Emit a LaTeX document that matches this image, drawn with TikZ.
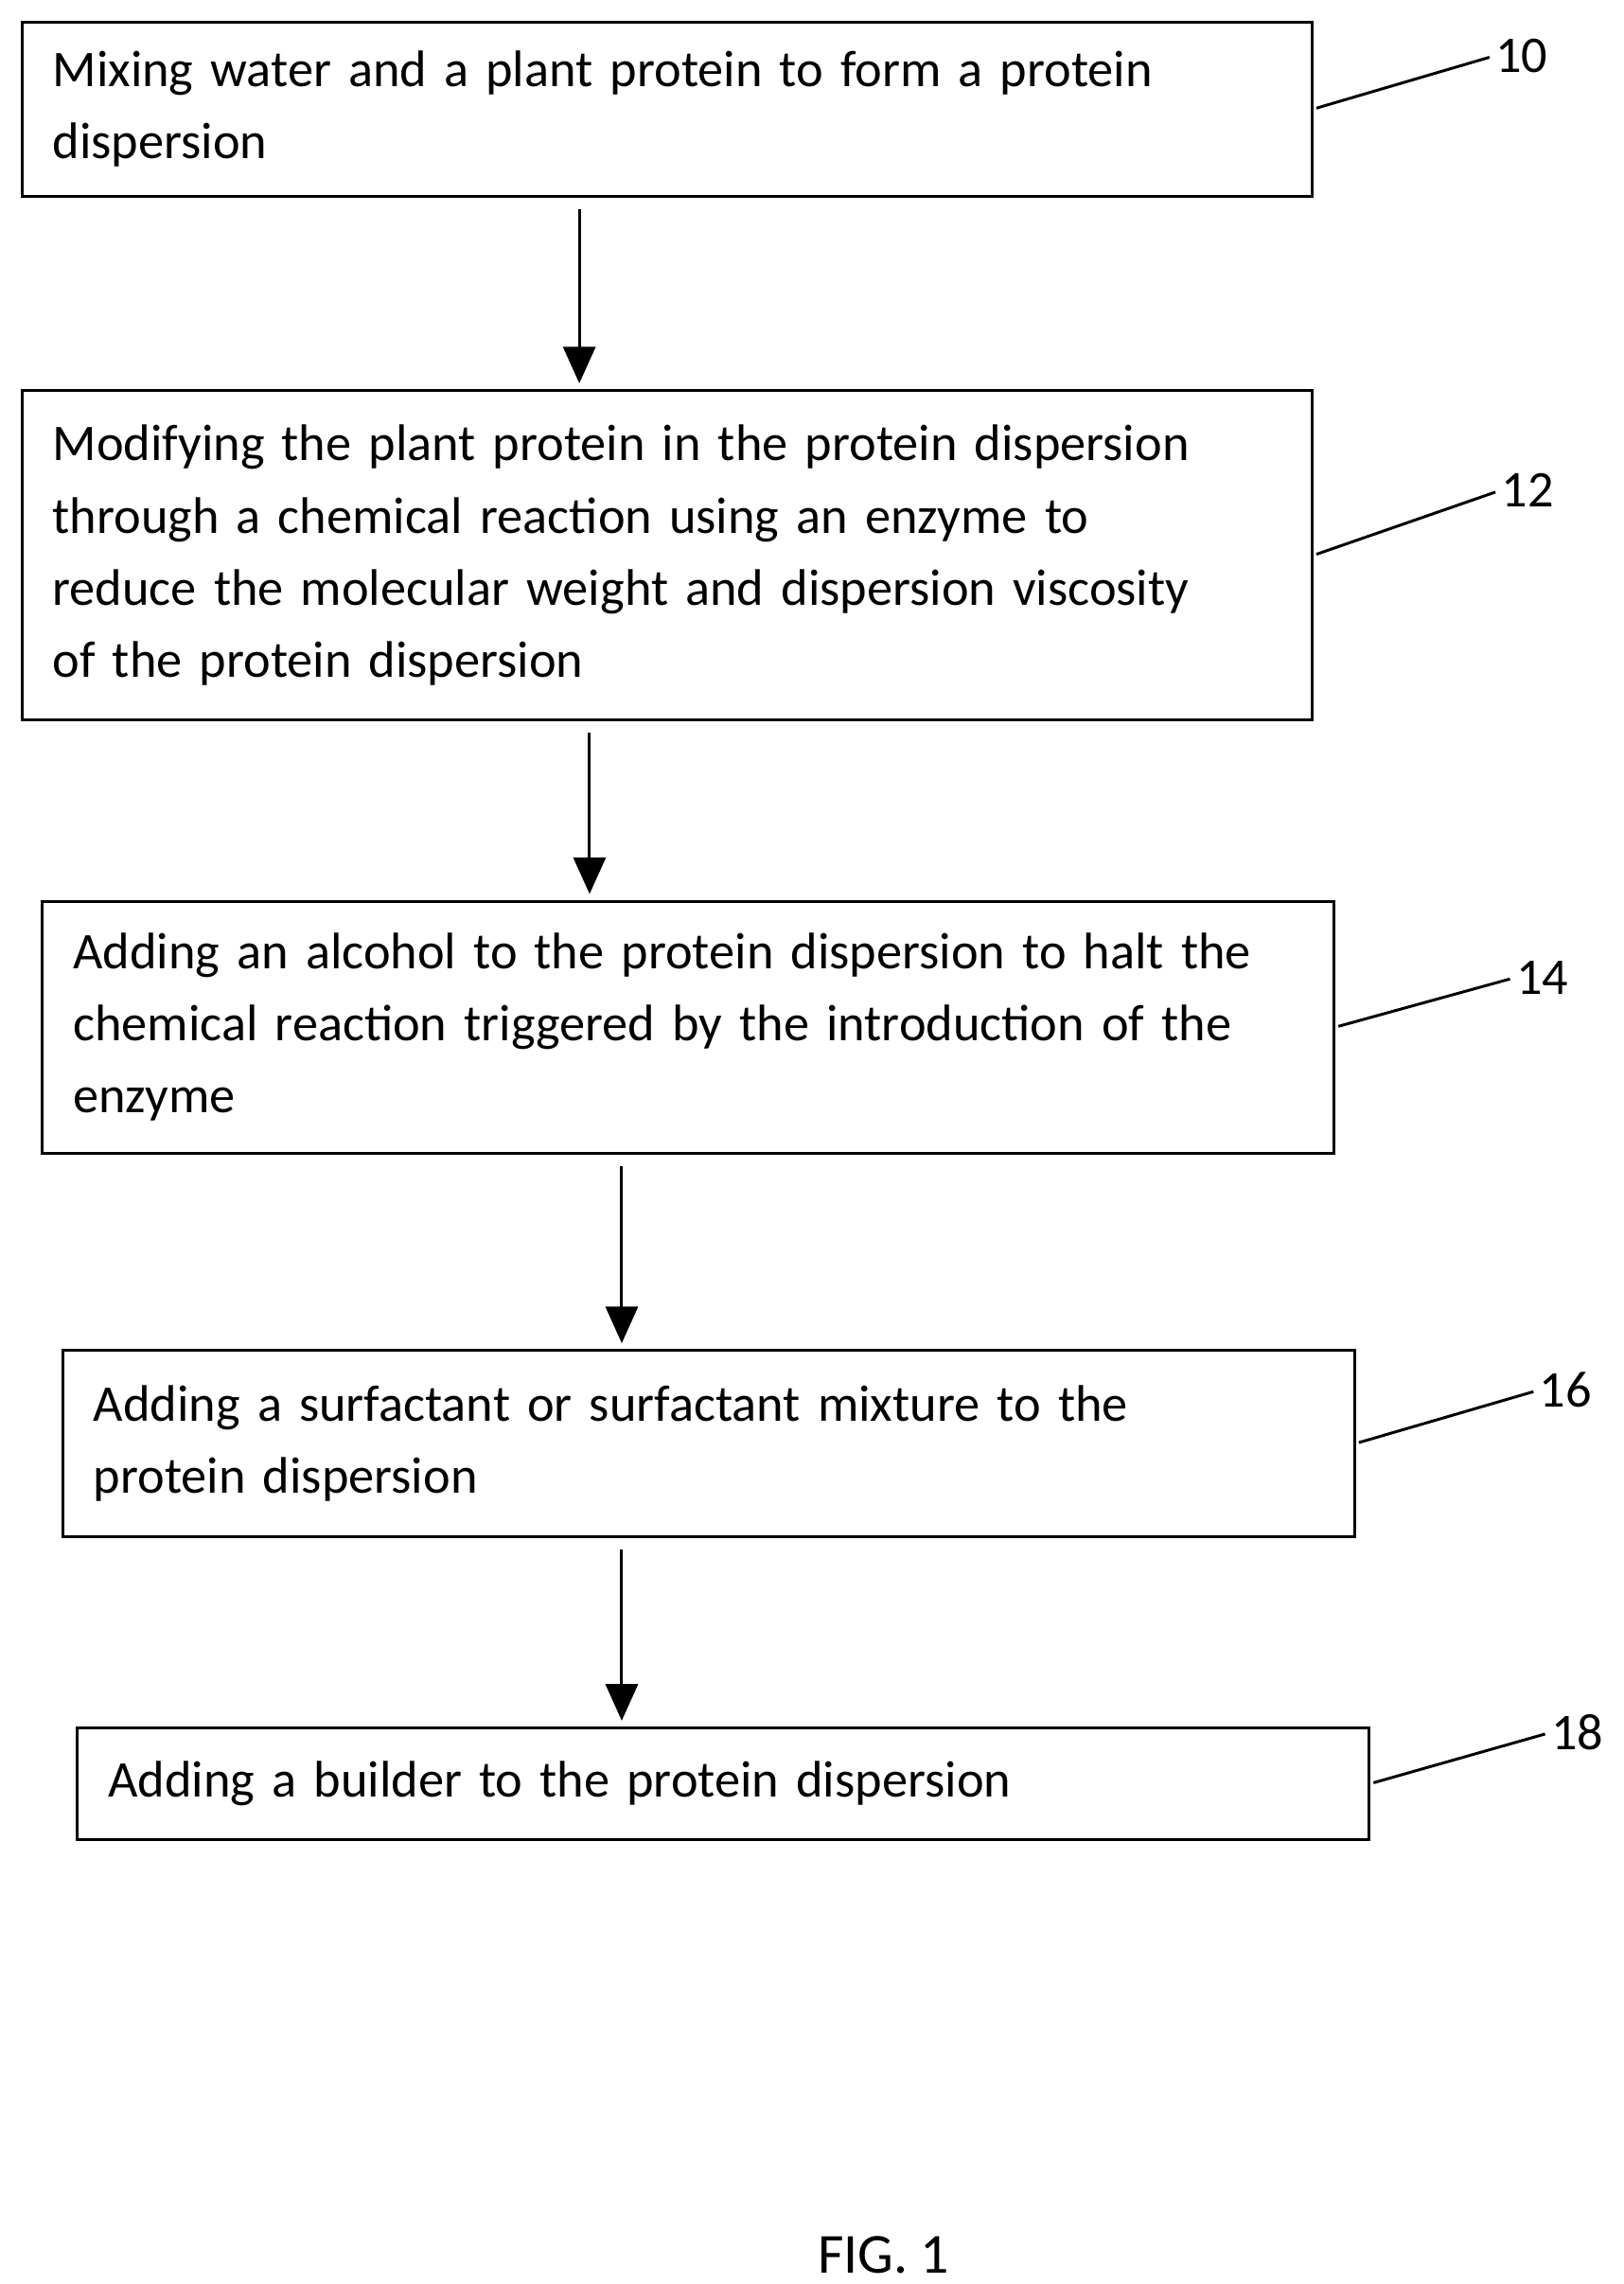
\documentclass[tikz,border=0pt]{standalone}
\usepackage{fontspec}
\setmainfont{Carlito}
\usetikzlibrary{arrows.meta}
\tikzset{
  stepbox/.style={draw, line width=1.1pt, anchor=north west, align=left, inner xsep=0.42cm,
    font=\fontsize{20}{28}\selectfont},
  arr/.style={line width=1.1pt, -{Triangle[length=0.5cm,width=0.44cm]}, shorten <=0.16cm, shorten >=0.08cm},
  ref/.style={anchor=west, inner sep=0pt, font=\fontsize{20}{24}\selectfont},
  lead/.style={line width=1.1pt, shorten <=0.04cm, shorten >=0.08cm}
}
\begin{document}
\begin{tikzpicture}
\useasboundingbox (0,0) rectangle (22.2,-31.22);
	\node[stepbox, text width=16.8cm, minimum height=2.38cm] (b1) at (0.28,-0.28) {Mixing water and a plant protein to form a protein\\dispersion};
	\node[stepbox, text width=16.8cm, minimum height=4.5cm] (b2) at (0.28,-5.32) {Modifying the plant protein in the protein dispersion\\through a chemical reaction using an enzyme to\\reduce the molecular weight and dispersion viscosity\\of the protein dispersion};
	\node[stepbox, text width=16.82cm, minimum height=3.44cm] (b3) at (0.56,-12.3) {Adding an alcohol to the protein dispersion to halt the\\chemical reaction triggered by the introduction of the\\enzyme};
	\node[stepbox, text width=16.82cm, minimum height=2.54cm] (b4) at (0.84,-18.44) {Adding a surfactant or surfactant mixture to the\\protein dispersion};
	\node[stepbox, text width=16.82cm, minimum height=1.52cm] (b5) at (1.04,-23.6) {Adding a builder to the protein dispersion};

	\draw[arr] (b1.south -| 7.92,0) -- (b2.north -| 7.92,0);
	\draw[arr] (b2.south -| 8.06,0) -- (b3.north -| 8.06,0);
	\draw[arr] (b3.south -| 8.5,0) -- (b4.north -| 8.5,0);
	\draw[arr] (b4.south -| 8.5,0) -- (b5.north -| 8.5,0);

	\node[ref] (l10) at (20.44,-0.76) {10};
	\node[ref] (l12) at (20.52,-6.7) {12};
	\node[ref] (l14) at (20.72,-13.36) {14};
	\node[ref] (l16) at (21.04,-19.0) {16};
	\node[ref] (l18) at (21.2,-23.68) {18};
	\draw[lead] (b1.east) -- (l10.west);
	\draw[lead] (b2.east) -- (l12.west);
	\draw[lead] (b3.east) -- (l14.west);
	\draw[lead] (b4.east) -- (l16.west);
	\draw[lead] (b5.east) -- (l18.west);

	\node[font=\fontsize{22}{26}\selectfont] (fig) at (12.08,-30.82) {FIG. 1};
\end{tikzpicture}
\end{document}
